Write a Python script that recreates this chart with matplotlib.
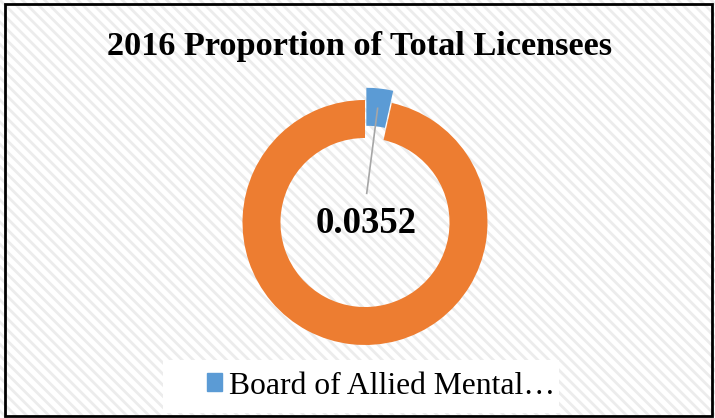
import matplotlib.pyplot as plt
import matplotlib.patches as mpatches
import numpy as np

plt.rcParams['font.family'] = ['Liberation Serif', 'DejaVu Serif']
plt.rcParams['hatch.linewidth'] = 2.0

labels = ['Board of Allied Mental Health Professions', 'Other Boards']
shares = [0.0352, 0.9648]
colors = ['#5b9bd5', '#ed7d31']

fig = plt.figure(figsize=(7.15, 4.18), dpi=100)
W, H = 715, 418

# donut geometry in pixels (from top-left)
cx, cy, r = 365, 222.5, 122.5

# background: hatch + soft shadow around ring
bg = fig.add_axes([0, 0, 1, 1], zorder=-5)
bg.set_xlim(0, W)
bg.set_ylim(H, 0)
bg.axis('off')
bg.add_patch(mpatches.Rectangle((0, 0), W, H, facecolor='white', edgecolor='#ececec',
                                hatch='\\\\\\', linewidth=0))
yy, xx = np.mgrid[0:H, 0:W]
dist = np.hypot(xx - cx, yy - cy)
rin = r * 0.69
d = np.where(dist > r, dist - r, np.where(dist < rin, rin - dist, 0))
shade = np.zeros((H, W, 4))
shade[..., :3] = 0.55
shade[..., 3] = 0.16 * np.exp(-d / 22)
bg.imshow(shade, extent=(0, W, H, 0), interpolation='bilinear')

# white legend area
bg.add_patch(mpatches.Rectangle((163, 360), 396, 53, facecolor='white', edgecolor='none'))
# outer border
bg.add_patch(mpatches.Rectangle((5, 4), 707, 412, fill=False, edgecolor='black', linewidth=2))

ax = fig.add_axes([(cx - 200) / W, (H - cy - 150) / H, 400 / W, 300 / H])
ax.pie(shares, colors=colors, startangle=90, counterclock=False,
       explode=[0.1, 0], wedgeprops=dict(width=0.31, edgecolor='none'))
ax.set_xlim(-200 / r, 200 / r)
ax.set_ylim(-150 / r, 150 / r)
ax.axis('off')

# leader line from blue slice to centre label
ax.plot([0.103, 0.014], [0.932, 0.238], color='#a6a6a6', lw=1.2)
ax.text(1 / r, -10.5 / r, f'{shares[0]:.4f}', ha='center', va='baseline',
        fontsize=26.5, fontweight='bold')

fig.text(359.5 / W, 1 - 55 / H, '2016 Proportion of Total Licensees', ha='center',
         va='baseline', fontsize=24.7, fontweight='bold')

# legend
handle = mpatches.Patch(color=colors[0])
leg = fig.legend([handle], ['Board of Allied Mental\u2026'], loc='center',
                 bbox_to_anchor=(381 / W, 1 - 386 / H), frameon=False, fontsize=22.8,
                 handlelength=0.5, handleheight=0.5, handletextpad=0.22,
                 borderpad=0.2)

fig.savefig('out.png', dpi=100)
